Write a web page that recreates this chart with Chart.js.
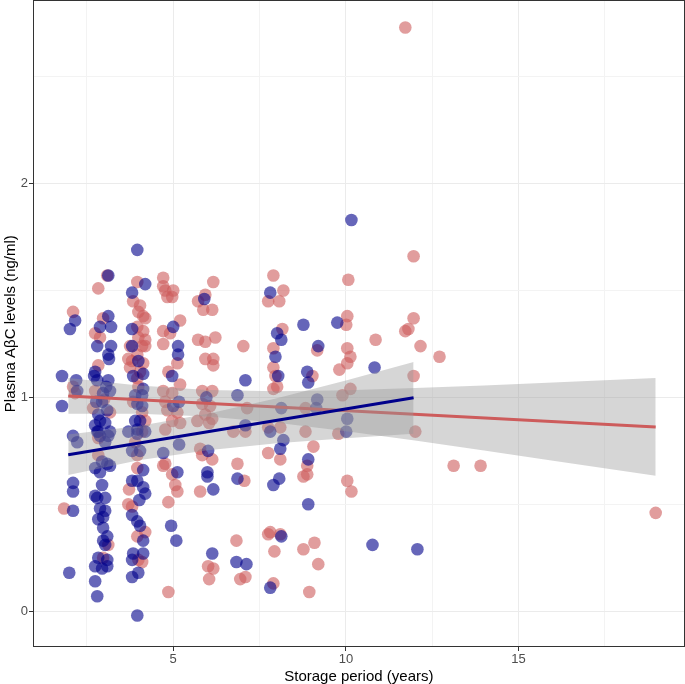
<!DOCTYPE html>
<html>
<head>
<meta charset="utf-8">
<script src="https://cdn.jsdelivr.net/npm/chart.js@4.4.1/dist/chart.umd.min.js"></script>
<style>
  html, body { margin: 0; padding: 0; background: #fff; }
  #wrap { width: 685px; height: 684px; overflow: hidden; position: relative; }
  #chart { display: block; position: absolute; left: 0; top: -6px; }
</style>
</head>
<body>
<div id="wrap"><canvas id="chart" width="691" height="690"></canvas></div>
<script>
// storage period (years), plasma level (ng/ml)
const redPoints = [
  [1.84, 0.48], [2.10, 1.40], [2.10, 1.05], [2.16, 1.02],
  [2.83, 1.51], [3.09, 1.57], [2.97, 1.37], [2.74, 1.30], [2.88, 1.28], [2.83, 1.15],
  [2.74, 1.03], [3.00, 0.99], [2.68, 0.95], [3.17, 0.93], [2.83, 0.81], [2.83, 0.73],
  [3.12, 0.31], [2.97, 0.25],
  [3.96, 1.54], [3.84, 1.45], [4.04, 1.43], [3.99, 1.40], [4.13, 1.38], [4.19, 1.37],
  [3.96, 1.33], [4.13, 1.31], [3.99, 1.28], [4.19, 1.27], [4.10, 1.24], [4.19, 1.24],
  [3.75, 1.24], [3.96, 1.20], [3.81, 1.17], [4.13, 1.16], [3.70, 1.18], [3.75, 1.14],
  [4.04, 1.12], [3.96, 1.09], [3.99, 1.05], [3.84, 0.98], [4.10, 0.93], [4.19, 0.89],
  [4.10, 0.84], [3.90, 0.79], [3.96, 0.73], [3.96, 0.67], [3.72, 0.57], [3.81, 0.49],
  [3.70, 0.50], [4.19, 0.37], [3.96, 0.35], [4.10, 0.23], [3.99, 0.24],
  [4.71, 1.56], [4.71, 1.52], [4.77, 1.50], [5.00, 1.50], [4.83, 1.47], [4.97, 1.47],
  [5.20, 1.36], [4.71, 1.31], [4.91, 1.30], [4.71, 1.25], [5.12, 1.16], [4.86, 1.12],
  [5.20, 1.06], [4.71, 1.03], [4.97, 1.02], [4.77, 0.98], [4.83, 0.94], [5.12, 0.93],
  [4.97, 0.89], [5.20, 0.88], [4.77, 0.85], [4.77, 0.69], [4.71, 0.68], [4.97, 0.64],
  [5.06, 0.59], [5.12, 0.56], [4.86, 0.51], [4.86, 0.09],
  [6.16, 1.54], [5.93, 1.48], [5.72, 1.45], [5.87, 1.41], [6.13, 1.41], [5.72, 1.27],
  [5.93, 1.26], [6.22, 1.28], [5.93, 1.18], [6.16, 1.18], [6.16, 1.15], [5.84, 1.03],
  [6.13, 1.03], [5.84, 0.97], [6.07, 0.96], [5.93, 0.92], [5.70, 0.89], [6.13, 0.90],
  [6.04, 0.88], [5.78, 0.76], [5.84, 0.73], [6.13, 0.71], [5.78, 0.56], [6.01, 0.21],
  [6.16, 0.20], [6.04, 0.15],
  [7.03, 1.24], [7.14, 0.95], [6.74, 0.84], [7.09, 0.84], [6.86, 0.69], [7.06, 0.61],
  [6.83, 0.33], [6.94, 0.15], [7.09, 0.16],
  [7.90, 1.57], [8.19, 1.50], [7.75, 1.45], [8.07, 1.45], [8.16, 1.32], [7.90, 1.23],
  [7.90, 1.14], [7.96, 1.10], [8.01, 1.05], [7.90, 1.04], [7.75, 0.86], [8.10, 0.86],
  [7.75, 0.74], [8.10, 0.71], [7.75, 0.36], [7.81, 0.37], [8.10, 0.36], [7.93, 0.28],
  [7.90, 0.13],
  [9.17, 1.22], [9.03, 1.10], [8.83, 0.95], [8.83, 0.84], [9.06, 0.77], [8.88, 0.68],
  [8.88, 0.64], [8.77, 0.63], [8.77, 0.29], [9.09, 0.32], [9.20, 0.22], [8.94, 0.09],
  [10.07, 1.55], [10.04, 1.38], [10.01, 1.34], [10.04, 1.23], [10.13, 1.19], [9.81, 1.13],
  [10.04, 1.16], [9.90, 1.01], [10.13, 1.04], [9.78, 0.83], [10.04, 0.61], [10.16, 0.56],
  [10.86, 1.27], [11.96, 1.66], [11.96, 1.37], [11.72, 1.31], [11.81, 1.32], [12.16, 1.24],
  [12.71, 1.19], [11.96, 1.10], [12.01, 0.84], [13.12, 0.68], [13.90, 0.68], [18.97, 0.46],
  [11.72, 2.73],
];

const bluePoints = [
  [1.78, 1.10], [1.78, 0.96], [1.99, 0.18], [2.10, 0.82], [2.22, 0.79], [2.10, 0.60],
  [2.10, 0.56], [2.10, 0.47], [2.16, 1.36], [2.01, 1.32], [2.19, 1.08], [2.22, 1.03],
  [3.12, 1.57], [3.12, 1.38], [2.88, 1.33], [3.20, 1.33], [2.80, 1.24], [3.20, 1.24],
  [3.12, 1.20], [3.14, 1.18], [2.74, 1.12], [2.71, 1.10], [2.80, 1.08], [3.12, 1.08],
  [3.06, 1.05], [2.97, 1.02], [3.17, 1.03], [2.77, 0.98], [2.94, 0.98], [3.09, 0.94],
  [2.83, 0.92], [2.88, 0.89], [2.74, 0.87], [3.03, 0.88], [2.83, 0.84], [3.17, 0.84],
  [2.88, 0.82], [2.80, 0.84], [3.12, 0.82], [3.03, 0.79], [2.94, 0.70], [3.09, 0.69],
  [2.74, 0.67], [2.88, 0.65], [3.17, 0.68], [2.94, 0.59], [2.74, 0.54], [3.03, 0.53],
  [2.80, 0.53], [2.88, 0.48], [3.03, 0.47], [2.83, 0.43], [2.97, 0.44], [2.97, 0.39],
  [3.09, 0.35], [2.97, 0.33], [3.03, 0.31], [2.83, 0.25], [3.09, 0.24], [2.74, 0.21],
  [2.94, 0.20], [3.09, 0.21], [2.74, 0.14], [2.80, 0.07],
  [3.96, 1.69], [4.19, 1.53], [3.81, 1.49], [3.81, 1.32], [3.81, 1.24], [3.99, 1.17],
  [3.84, 1.10], [4.13, 1.11], [4.13, 1.04], [3.90, 1.01], [4.10, 1.01], [3.96, 0.97],
  [4.10, 0.96], [3.90, 0.89], [4.04, 0.89], [3.96, 0.85], [4.19, 0.84], [3.70, 0.84],
  [3.96, 0.83], [3.81, 0.75], [4.04, 0.75], [4.13, 0.66], [3.81, 0.61], [3.96, 0.61],
  [4.13, 0.58], [4.19, 0.55], [4.02, 0.52], [3.81, 0.45], [3.96, 0.42], [4.04, 0.40],
  [4.13, 0.33], [3.84, 0.27], [4.13, 0.27], [3.81, 0.24], [3.99, 0.18], [3.81, 0.16],
  [3.96, -0.02],
  [5.00, 1.33], [5.14, 1.24], [5.14, 1.20], [4.97, 1.10], [5.00, 0.96], [5.17, 0.98],
  [5.17, 0.78], [4.71, 0.74], [5.12, 0.65], [4.94, 0.40], [5.09, 0.33],
  [5.90, 1.46], [5.96, 1.00], [6.01, 0.75], [5.99, 0.65], [5.99, 0.63], [6.16, 0.57],
  [6.13, 0.27],
  [7.09, 1.08], [6.86, 1.01], [7.09, 0.87], [6.86, 0.62], [6.83, 0.23], [7.12, 0.22],
  [7.81, 1.49], [8.01, 1.30], [8.13, 1.27], [7.96, 1.19], [8.04, 1.10], [8.13, 0.95],
  [7.81, 0.84], [8.19, 0.80], [8.10, 0.76], [8.07, 0.62], [7.90, 0.59], [8.13, 0.35],
  [7.81, 0.11],
  [8.77, 1.34], [9.20, 1.24], [8.88, 1.12], [8.91, 1.07], [9.17, 0.99], [9.14, 0.95],
  [8.91, 0.71], [8.91, 0.50],
  [9.75, 1.35], [10.04, 0.90], [10.01, 0.84], [10.16, 1.83], [10.83, 1.14], [10.77, 0.31],
  [12.07, 0.29],
];

// fitted lines and their confidence bands
const redFitX = [1.96, 18.97];
const redFitY = [1.007, 0.862];
const blueFitX = [1.96, 11.96];
const blueFitY = [0.732, 0.998];

const redBandX = [1.96, 4, 6, 8, 10, 12, 14, 16, 18.97];
const redBandLo = [0.923, 0.924, 0.911, 0.881, 0.842, 0.798, 0.752, 0.704, 0.633];
const redBandHi = [1.091, 1.056, 1.035, 1.029, 1.034, 1.044, 1.056, 1.070, 1.091];

const blueBandX = [1.96, 4, 6, 8, 10, 11.96];
const blueBandLo = [0.637, 0.706, 0.753, 0.786, 0.809, 0.830];
const blueBandHi = [0.827, 0.866, 0.923, 0.996, 1.079, 1.166];

const xTicks = [2.5, 5, 7.5, 10, 12.5, 15, 17.5];
const yTicks = [0, 0.5, 1, 1.5, 2, 2.5];

const RED = "rgba(205, 92, 92, 0.6)";
const BLUE = "rgba(0, 0, 139, 0.6)";
const BAND = "rgba(153, 153, 153, 0.4)";
const FONT = "'Liberation Sans', Arial, Helvetica, sans-serif";

const toXY = (pts) => pts.map(([x, y]) => ({ x, y }));
const zipXY = (xs, ys) => xs.map((x, i) => ({ x, y: ys[i] }));
const isMajor = (v, step) => Math.abs(v / step - Math.round(v / step)) < 1e-6;

const lineSet = (data, color) => ({
  type: "line",
  data,
  borderColor: color,
  borderWidth: 3,
  pointRadius: 0,
  fill: false,
});

const bandSet = (data, fill) => ({
  type: "line",
  data,
  borderWidth: 0,
  borderColor: "rgba(0,0,0,0)",
  backgroundColor: BAND,
  pointRadius: 0,
  fill,
});

const panelBorder = {
  id: "panelBorder",
  afterDatasetsDraw(chart) {
    const { ctx, chartArea: a } = chart;
    ctx.save();
    ctx.strokeStyle = "#333333";
    ctx.lineWidth = 1;
    ctx.strokeRect(Math.round(a.left) + 0.5, Math.round(a.top) + 0.5,
      Math.round(a.right - a.left) - 1, Math.round(a.bottom - a.top) - 1);
    ctx.restore();
  },
};

const ctx = document.getElementById("chart").getContext("2d");
const chart = new Chart(ctx, {
  type: "scatter",
  data: {
    datasets: [
      lineSet(zipXY(blueFitX, blueFitY), "#00008B"),
      bandSet(zipXY(blueBandX, blueBandHi), "+1"),
      bandSet(zipXY(blueBandX, blueBandLo), false),
      lineSet(zipXY(redFitX, redFitY), "#CD5C5C"),
      bandSet(zipXY(redBandX, redBandHi), "+1"),
      bandSet(zipXY(redBandX, redBandLo), false),
      {
        data: toXY(bluePoints),
        backgroundColor: BLUE,
        borderWidth: 0,
        pointRadius: 6.3,
      },
      {
        data: toXY(redPoints),
        backgroundColor: RED,
        borderWidth: 0,
        pointRadius: 6.3,
      },
    ],
  },
  options: {
    responsive: false,
    animation: false,
    layout: { padding: 0 },
    plugins: { legend: { display: false }, tooltip: { enabled: false } },
    scales: {
      x: {
        type: "linear",
        min: 0.94,
        max: 19.81,
        afterBuildTicks: (scale) => {
          scale.ticks = xTicks.map((value) => ({ value }));
        },
        afterFit: (scale) => {
          scale.height = 37;
          scale.paddingLeft = 0;
          scale.paddingRight = 0;
        },
        border: { display: false },
        grid: {
          color: (c) => (isMajor(c.tick.value, 5) ? "#EBEBEB" : "#F3F3F3"),
          lineWidth: 1,
          tickLength: 4,
          tickColor: (c) => (isMajor(c.tick.value, 5) ? "#333333" : "rgba(0,0,0,0)"),
        },
        ticks: {
          autoSkip: false,
          maxRotation: 0,
          padding: 1,
          color: "#4D4D4D",
          font: { family: FONT, size: 13 },
          callback: (v) => (isMajor(v, 5) ? String(v) : ""),
        },
        title: {
          display: true,
          text: "Storage period (years)",
          color: "#000000",
          font: { family: FONT, size: 15, lineHeight: 1 },
          padding: { top: 0, bottom: 0 },
        },
      },
      y: {
        min: -0.1675,
        max: 2.8575,
        afterBuildTicks: (scale) => {
          scale.ticks = yTicks.map((value) => ({ value }));
        },
        afterFit: (scale) => {
          scale.width = 33;
          scale.paddingTop = 0;
          scale.paddingBottom = 0;
        },
        border: { display: false },
        grid: {
          color: (c) => (isMajor(c.tick.value, 1) ? "#EBEBEB" : "#F3F3F3"),
          lineWidth: 1,
          tickLength: 4,
          tickColor: (c) => (isMajor(c.tick.value, 1) ? "#333333" : "rgba(0,0,0,0)"),
        },
        ticks: {
          autoSkip: false,
          padding: 1,
          color: "#4D4D4D",
          font: { family: FONT, size: 13 },
          callback: (v) => (isMajor(v, 1) ? String(v) : ""),
        },
        title: {
          display: true,
          text: "Plasma AβC levels (ng/ml)",
          color: "#000000",
          font: { family: FONT, size: 15, lineHeight: 1 },
          padding: { top: 3, bottom: 0 },
        },
      },
    },
  },
  plugins: [panelBorder],
});
</script>
</body>
</html>
